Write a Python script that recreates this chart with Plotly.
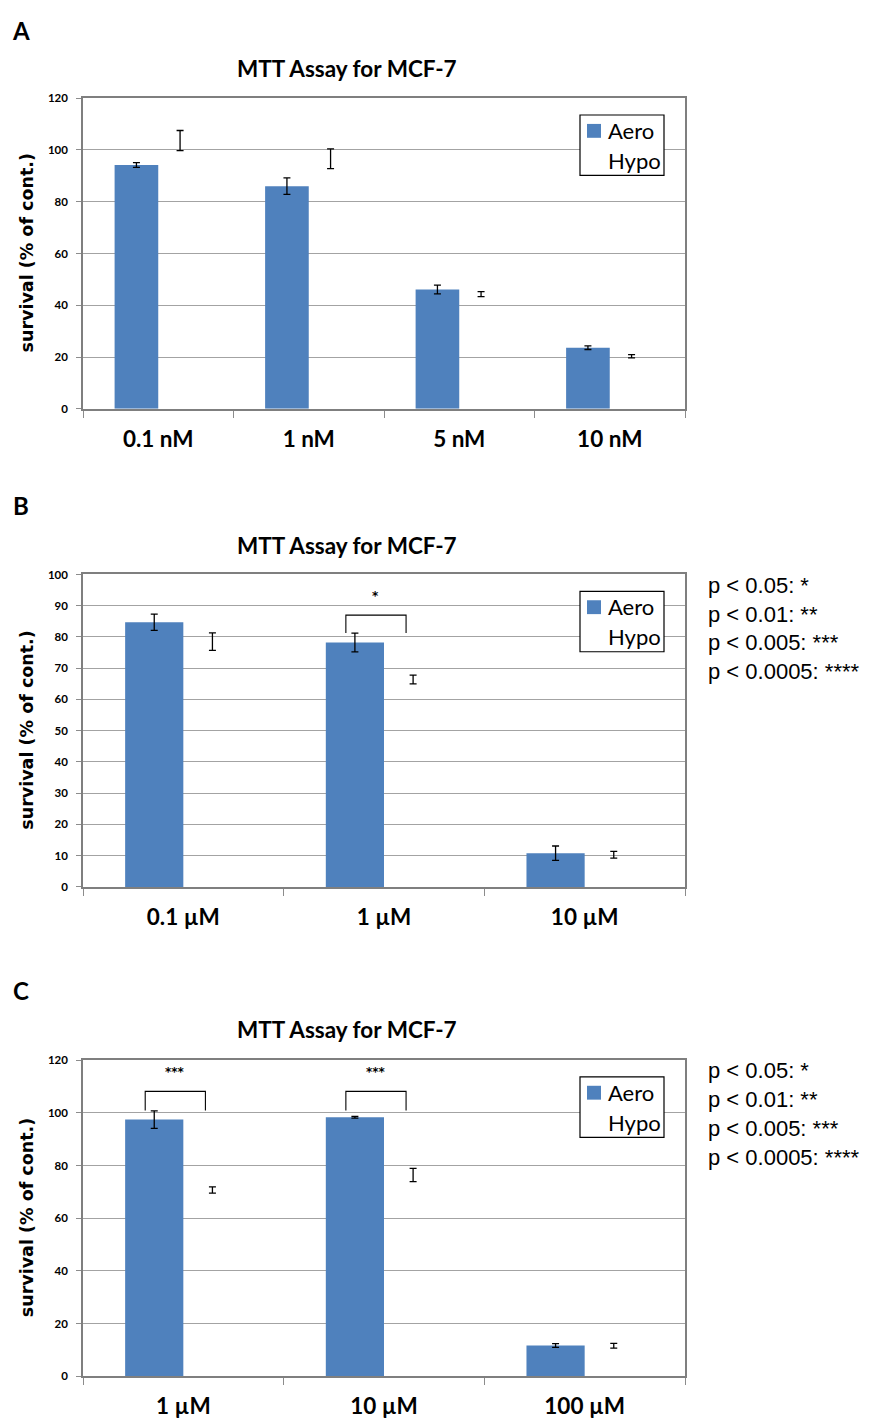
import plotly.graph_objects as go

W, H = 884, 1427

# ---------------- data ----------------
cats_A = ["0.1 nM", "1 nM", "5 nM", "10 nM"]
aero_A = [94.2, 86.0, 46.1, 23.6]
aero_err_A = [0.9, 3.2, 1.7, 0.7]
hypo_A = [103.6, 96.6, 44.3, 20.3]
hypo_err_A = [3.9, 3.8, 1.0, 0.6]

cats_B = ["0.1 µM", "1 µM", "10 µM"]
aero_B = [84.7, 78.2, 10.8]
aero_err_B = [2.6, 3.0, 2.3]
hypo_B = [78.5, 66.4, 10.3]
hypo_err_B = [2.8, 1.4, 1.1]

cats_C = ["1 µM", "10 µM", "100 µM"]
aero_C = [97.4, 98.3, 11.7]
aero_err_C = [3.3, 0.3, 0.7]
hypo_C = [70.7, 76.4, 11.6]
hypo_err_C = [1.2, 2.5, 0.9]

# significance: (category index, label, bracket level, leg bottom)
sig_A = []
sig_B = [(1, "*", 87.0, 81.3)]
sig_C = [(0, "***", 108.1, 100.9), (1, "***", 108.1, 100.9)]

pvalue_lines = ["p < 0.05: *", "p < 0.01: **", "p < 0.005: ***", "p < 0.0005: ****"]
title_text = "MTT Assay for MCF-7"
ytitle_text = "survival (% of cont.)"
series_names = ["Aero", "Hypo"]

# ---------------- layout helpers ----------------
def px(x):
    return x / W

def py(y):
    return 1 - y / H

AERO_COLOR = "#4F81BD"
X0, X1 = 83, 685
CAL = "Lato"

panels = [
    dict(label="A", cats=cats_A, aero=aero_A, aero_err=aero_err_A, hypo=hypo_A,
         hypo_err=hypo_err_A, ymax=120, dtick=20, top=92, bottom=405.5,
         label_y=24, title_y=62, sig=sig_A, pvals=False),
    dict(label="B", cats=cats_B, aero=aero_B, aero_err=aero_err_B, hypo=hypo_B,
         hypo_err=hypo_err_B, ymax=100, dtick=10, top=572.7, bottom=888,
         label_y=503, title_y=543, sig=sig_B, pvals=True),
    dict(label="C", cats=cats_C, aero=aero_C, aero_err=aero_err_C, hypo=hypo_C,
         hypo_err=hypo_err_C, ymax=120, dtick=20, top=1062.7, bottom=1382,
         label_y=993, title_y=1032, sig=sig_C, pvals=True),
]

fig = go.Figure()
annotations = []
shapes = []
layout_axes = {}

for i, p in enumerate(panels):
    k = "" if i == 0 else str(i + 1)
    xa, ya = "x" + k, "y" + k
    err_style = dict(type="data", color="black", thickness=1.3, width=3.5, visible=True)
    fig.add_trace(go.Bar(
        x=p["cats"], y=p["aero"], name=series_names[0], xaxis=xa, yaxis=ya,
        marker=dict(color=AERO_COLOR, line=dict(width=0)),
        error_y=dict(array=p["aero_err"], **err_style), showlegend=False))
    fig.add_trace(go.Bar(
        x=p["cats"], y=p["hypo"], name=series_names[1], xaxis=xa, yaxis=ya,
        marker=dict(color="rgba(255,255,255,0)", line=dict(width=0)),
        error_y=dict(array=p["hypo_err"], **err_style), showlegend=False))

    n = len(p["cats"])
    layout_axes["xaxis" + k] = dict(
        domain=[px(X0), px(X1)], anchor=ya, type="category",
        range=[-0.5, n - 0.5], showline=True, mirror=True,
        linecolor="#7f7f7f", linewidth=1.6, ticks="outside",
        tickson="boundaries", ticklen=7, tickcolor="#8c8c8c", tickwidth=1.3,
        showgrid=False, ticklabelstandoff=9,
        tickfont=dict(family=CAL, size=22.5, color="black", weight="bold"))
    layout_axes["yaxis" + k] = dict(
        domain=[py(p["bottom"]), py(p["top"])], anchor=xa,
        range=[0, p["ymax"]], dtick=p["dtick"], showgrid=True,
        gridcolor="#a3a3a3", gridwidth=1.4, zeroline=False,
        showline=True, mirror=True, linecolor="#7f7f7f", linewidth=1.6,
        ticks="outside", ticklen=5, tickcolor="#8c8c8c", tickwidth=1.3,
        ticklabelstandoff=6,
        tickfont=dict(family=CAL, size=11.5, color="black", weight="bold"))

    # panel letter
    annotations.append(dict(
        x=px(21), y=py(p["label_y"]), xref="paper", yref="paper",
        text=p["label"], showarrow=False, xanchor="center", yanchor="middle",
        font=dict(family=CAL, size=24, color="black", weight="bold")))
    # title
    annotations.append(dict(
        x=px(347), y=py(p["title_y"]), xref="paper", yref="paper",
        text=title_text, showarrow=False, xanchor="center", yanchor="middle",
        font=dict(family=CAL, size=22.5, color="black", weight="bold")))
    # y-axis title
    annotations.append(dict(
        x=px(27), y=py((p["top"] + p["bottom"]) / 2), xref="paper", yref="paper",
        text=ytitle_text, showarrow=False, textangle=-90,
        xanchor="center", yanchor="middle",
        font=dict(family="DejaVu Sans", size=17.5, color="black", weight="bold")))

    # legend (box, swatch, labels)
    t = p["top"]
    shapes.append(dict(type="rect", xref="paper", yref="paper",
                       x0=px(580), x1=px(664), y0=py(t + 17), y1=py(t + 78),
                       fillcolor="white", line=dict(color="black", width=1.2),
                       layer="above"))
    shapes.append(dict(type="rect", xref="paper", yref="paper",
                       x0=px(587), x1=px(601), y0=py(t + 40), y1=py(t + 26),
                       fillcolor=AERO_COLOR, line=dict(width=0), layer="above"))
    for j, (name, dy) in enumerate(zip(series_names, [32.5, 63])):
        annotations.append(dict(
            x=px(606), y=py(t + dy), xref="paper", yref="paper",
            text=name, showarrow=False, xanchor="left", yanchor="middle",
            font=dict(family=CAL, size=22, color="black")))

    # significance brackets
    for (ci, lab, lvl, leg) in p["sig"]:
        xl, xr = ci - 0.19, ci + 0.11
        shapes.append(dict(type="path", xref=xa, yref=ya,
                           path=f"M {xl},{leg} L {xl},{lvl} L {xr},{lvl} L {xr},{leg}",
                           line=dict(color="black", width=1.1)))
        annotations.append(dict(
            x=ci - 0.04, y=lvl + 6.0 * p["ymax"] / 100, xref=xa, yref=ya, text=lab,
            showarrow=False, xanchor="center", yanchor="middle",
            font=dict(family="DejaVu Sans", size=12, color="black", weight="bold")))

    # p-value key
    if p["pvals"]:
        for j, line in enumerate(pvalue_lines):
            annotations.append(dict(
                x=px(706), y=py(t + 11 + 29 * j), xref="paper", yref="paper",
                text=line, showarrow=False, xanchor="left", yanchor="middle",
                font=dict(family="Liberation Sans", size=22, color="black")))

fig.update_layout(
    width=W, height=H, margin=dict(l=0, r=0, t=0, b=0),
    paper_bgcolor="white", plot_bgcolor="white",
    barmode="group", bargap=0.42, bargroupgap=0,
    showlegend=False, annotations=annotations, shapes=shapes,
    **layout_axes)

fig.write_html(
    "out.html",
    config={"displayModeBar": False},
    post_script="document.body.style.margin='0';document.body.style.overflow='hidden';")
